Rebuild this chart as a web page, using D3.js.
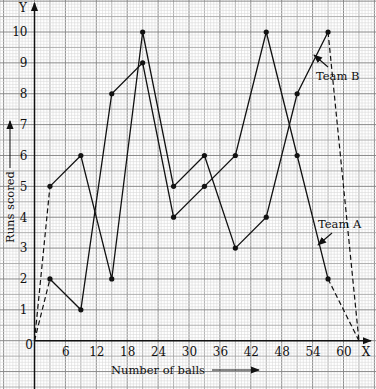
<!DOCTYPE html>
<html><head><meta charset="utf-8">
<script src="https://cdn.jsdelivr.net/npm/d3@7/dist/d3.min.js"></script>
<style>html,body{margin:0;padding:0;background:#fff;overflow:hidden}</style>
</head><body>
<svg id="c" width="376" height="389"></svg>
<script>
const balls = [3, 9, 15, 21, 27, 33, 39, 45, 51, 57];
const teamA = [2, 1, 8, 9, 4, 5, 6, 10, 6, 2];
const teamB = [5, 6, 2, 10, 5, 6, 3, 4, 8, 10];
const startPoint = [0, 0];
const endPoint = [63, 0];
const xTicks = [6, 12, 18, 24, 30, 36, 42, 48, 54, 60];
const yTicks = [1, 2, 3, 4, 5, 6, 7, 8, 9, 10];

const W = 376, H = 389;
const svg = d3.select("#c");
const x = d3.scaleLinear().domain([0, 60]).range([34.5, 343.5]);
const y = d3.scaleLinear().domain([0, 10]).range([340.7, 32]);
const font = "DejaVu Serif";

// graph paper grid
const g = svg.append("g");
const xi0 = Math.floor(x.invert(0) / 0.6), xi1 = Math.ceil(x.invert(W) / 0.6);
d3.range(xi0, xi1 + 1).forEach(i => {
  const m = ((i % 10) + 10) % 10;
  const px = x(i * 0.6);
  g.append("line").attr("x1", px).attr("x2", px).attr("y1", 0).attr("y2", H)
    .attr("stroke", m === 0 ? "#8a8a8a" : (m === 5 ? "#a8a8a8" : "#dadada"))
    .attr("stroke-width", m === 0 ? 1 : (m === 5 ? 0.9 : 0.6));
});
const yi0 = Math.floor(y.invert(H) / 0.1), yi1 = Math.ceil(y.invert(0) / 0.1);
d3.range(yi0, yi1 + 1).forEach(i => {
  const m = ((i % 10) + 10) % 10;
  const py = y(i * 0.1);
  g.append("line").attr("y1", py).attr("y2", py).attr("x1", 0).attr("x2", W)
    .attr("stroke", m === 0 ? "#8a8a8a" : (m === 5 ? "#a8a8a8" : "#dadada"))
    .attr("stroke-width", m === 0 ? 1 : (m === 5 ? 0.9 : 0.6));
});

// arrow markers
const defs = svg.append("defs");
defs.append("marker").attr("id", "ah").attr("viewBox", "0 0 10 10")
  .attr("refX", 9).attr("refY", 5).attr("markerWidth", 9).attr("markerHeight", 9)
  .attr("markerUnits", "userSpaceOnUse").attr("orient", "auto")
  .append("path").attr("d", "M0,1 L10,5 L0,9 Z").attr("fill", "#111");

// axes lines
svg.append("line").attr("x1", x(0)).attr("x2", 371).attr("y1", y(0)).attr("y2", y(0))
  .attr("stroke", "#111").attr("stroke-width", 1.5).attr("marker-end", "url(#ah)");
svg.append("line").attr("x1", x(0)).attr("x2", x(0)).attr("y1", H).attr("y2", 3)
  .attr("stroke", "#111").attr("stroke-width", 1.5).attr("marker-end", "url(#ah)");

// axis tick labels via d3 axes
const xAxis = svg.append("g").attr("transform", `translate(0,${y(0)})`)
  .call(d3.axisBottom(x).tickValues(xTicks).tickSize(0).tickPadding(7).tickFormat(d3.format("d")));
xAxis.select(".domain").remove();
xAxis.selectAll("text").attr("font-family", font).attr("font-size", 12).attr("fill", "#111");

const yAxis = svg.append("g").attr("transform", `translate(${x(0)},0)`)
  .call(d3.axisLeft(y).tickValues(yTicks).tickSize(0).tickPadding(7).tickFormat(d3.format("d")));
yAxis.select(".domain").remove();
yAxis.selectAll("text").attr("font-family", font).attr("font-size", 12).attr("fill", "#111");

svg.append("text").attr("x", 29).attr("y", 349).attr("text-anchor", "middle")
  .attr("font-family", font).attr("font-size", 12).attr("fill", "#111").text("0");
svg.append("text").attr("x", 366).attr("y", 356).attr("text-anchor", "middle")
  .attr("font-family", font).attr("font-size", 12).attr("fill", "#111").text("X");
svg.append("text").attr("x", 23).attr("y", 12).attr("text-anchor", "middle")
  .attr("font-family", font).attr("font-size", 12).attr("fill", "#111").text("Y");

// axis titles
svg.append("text").attr("x", 111).attr("y", 374)
  .attr("font-family", font).attr("font-size", 11.5).attr("fill", "#111").text("Number of balls");
svg.append("line").attr("x1", 212).attr("x2", 259).attr("y1", 370).attr("y2", 370)
  .attr("stroke", "#111").attr("stroke-width", 1).attr("marker-end", "url(#ah)");

svg.append("text").attr("transform", "translate(14,243) rotate(-90)")
  .attr("font-family", font).attr("font-size", 11.5).attr("fill", "#111").text("Runs scored");
svg.append("line").attr("x1", 10).attr("x2", 10).attr("y1", 168).attr("y2", 121)
  .attr("stroke", "#111").attr("stroke-width", 1).attr("marker-end", "url(#ah)");

// series
const line = d3.line().x(d => x(d[0])).y(d => y(d[1]));
[teamA, teamB].forEach(vals => {
  const pts = balls.map((b, i) => [b, vals[i]]);
  svg.append("path").attr("d", line([startPoint, pts[0]])).attr("fill", "none")
    .attr("stroke", "#111").attr("stroke-width", 1.2).attr("stroke-dasharray", "5,3");
  svg.append("path").attr("d", line([pts[pts.length - 1], endPoint])).attr("fill", "none")
    .attr("stroke", "#111").attr("stroke-width", 1.2).attr("stroke-dasharray", "5,3");
  svg.append("path").attr("d", line(pts)).attr("fill", "none")
    .attr("stroke", "#111").attr("stroke-width", 1.3);
  svg.selectAll(null).data(pts).enter().append("circle")
    .attr("cx", d => x(d[0])).attr("cy", d => y(d[1])).attr("r", 2.6).attr("fill", "#111");
});

// annotations
svg.append("text").attr("x", 316).attr("y", 80)
  .attr("font-family", font).attr("font-size", 11.5).attr("fill", "#111").text("Team B");
svg.append("line").attr("x1", 328).attr("x2", 314).attr("y1", 67).attr("y2", 55)
  .attr("stroke", "#111").attr("stroke-width", 1.1).attr("marker-end", "url(#ah)");
svg.append("text").attr("x", 318).attr("y", 228)
  .attr("font-family", font).attr("font-size", 11.5).attr("fill", "#111").text("Team A");
svg.append("line").attr("x1", 332).attr("x2", 318).attr("y1", 233).attr("y2", 245)
  .attr("stroke", "#111").attr("stroke-width", 1.1).attr("marker-end", "url(#ah)");
</script>
</body></html>
